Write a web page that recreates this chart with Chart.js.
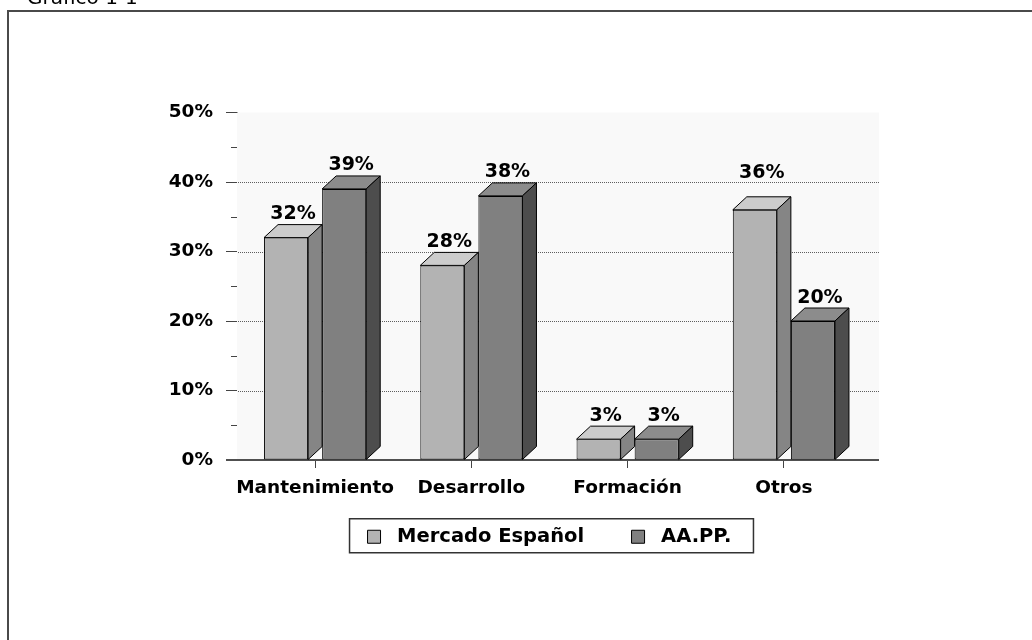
<!DOCTYPE html>
<html lang="es">
<head>
<meta charset="utf-8">
<title>Gráfico 1-1</title>
<script src="https://cdn.jsdelivr.net/npm/chart.js@4.4.1/dist/chart.umd.min.js"></script>
<style>
  html, body { margin: 0; padding: 0; background: #ffffff; overflow: hidden; }
  #page { position: relative; width: 1032px; height: 640px; overflow: hidden; }
  #frame {
    position: absolute; left: 7px; top: 10px; width: 1100px; height: 700px;
    border: 2px solid #4a4a4a; box-sizing: border-box;
  }
  #wrap { position: absolute; left: 0; top: 0; width: 1032px; height: 640px; }
</style>
</head>
<body>
<div id="page">
  <div id="frame"></div>
  <div id="wrap"><canvas id="chart"></canvas></div>
</div>
<script>
// Categories, series and axis ticks
const categories = ['Mantenimiento', 'Desarrollo', 'Formación', 'Otros'];
const mercadoEspanol = [32, 28, 3, 36];
const aapp = [39, 38, 3, 20];
const seriesNames = ['Mercado Español', 'AA.PP.'];
const yTicks = [0, 10, 20, 30, 40, 50];
const yMinorTicks = [5, 15, 25, 35, 45];
const figureTitle = 'Gráfico 1-1';

const FONT = 'DejaVu Sans';
Chart.defaults.font.family = FONT;
Chart.defaults.color = '#000';

// Shades of each series: front, top and side faces of the 3D columns
const shades = [
  { front: '#b3b3b3', top: '#cccccc', side: '#858585' },
  { front: '#808080', top: '#8c8c8c', side: '#4d4d4d' }
];
const DEPTH_X = 14, DEPTH_Y = 13, BACK_EXTRA = 17;
const NBSP = '\u00a0';

// Back wall, dotted grid, floor line and minor ticks
const wallPlugin = {
  id: 'wall',
  beforeDatasetsDraw(chart) {
    const { ctx, chartArea: a, scales: { y } } = chart;
    ctx.save();
    ctx.fillStyle = '#f9f9f9';
    ctx.fillRect(a.left, a.top, a.right - a.left + BACK_EXTRA, a.bottom - a.top);
    ctx.strokeStyle = '#5e5e5e';
    ctx.lineWidth = 1;
    ctx.setLineDash([1, 1]);
    yTicks.forEach(v => {
      if (v === yTicks[0] || v === yTicks[yTicks.length - 1]) return;
      const py = Math.round(y.getPixelForValue(v)) + 0.5;
      ctx.beginPath();
      ctx.moveTo(a.left + 1, py);
      ctx.lineTo(a.right + BACK_EXTRA, py);
      ctx.stroke();
    });
    ctx.setLineDash([]);
    ctx.strokeStyle = '#505050';
    ctx.lineWidth = 2;
    const py0 = y.getPixelForValue(0);
    ctx.beginPath();
    ctx.moveTo(a.left - 11, py0);
    ctx.lineTo(a.right + BACK_EXTRA, py0);
    ctx.stroke();
    ctx.lineWidth = 1;
    ctx.strokeStyle = '#444';
    yMinorTicks.forEach(v => {
      const py = Math.round(y.getPixelForValue(v)) + 0.5;
      ctx.beginPath();
      ctx.moveTo(a.left - 6, py);
      ctx.lineTo(a.left, py);
      ctx.stroke();
    });
    ctx.restore();
  }
};

// Top and side faces of each column, plus the value labels above them
const columnsPlugin = {
  id: 'columns3d',
  afterDatasetsDraw(chart) {
    const { ctx, scales: { y } } = chart;
    ctx.save();
    ctx.strokeStyle = '#000';
    ctx.lineWidth = 1;
    ctx.lineJoin = 'miter';
    chart.data.datasets.forEach((ds, di) => {
      const meta = chart.getDatasetMeta(di);
      meta.data.forEach(bar => {
        const { x, y: yt, base: yb, width } = bar.getProps(['x', 'y', 'base', 'width'], true);
        const xl = x - width / 2, xr = x + width / 2;
        ctx.fillStyle = shades[di].top;
        ctx.beginPath();
        ctx.moveTo(xl, yt);
        ctx.lineTo(xl + DEPTH_X, yt - DEPTH_Y);
        ctx.lineTo(xr + DEPTH_X, yt - DEPTH_Y);
        ctx.lineTo(xr, yt);
        ctx.closePath();
        ctx.fill();
        ctx.stroke();
        ctx.fillStyle = shades[di].side;
        ctx.beginPath();
        ctx.moveTo(xr, yt);
        ctx.lineTo(xr + DEPTH_X, yt - DEPTH_Y);
        ctx.lineTo(xr + DEPTH_X, yb - DEPTH_Y);
        ctx.lineTo(xr, yb);
        ctx.closePath();
        ctx.fill();
        ctx.stroke();
      });
    });
    // value labels, lifted clear of any gridline they would cross
    ctx.font = `bold 19px "${FONT}"`;
    ctx.fillStyle = '#000';
    ctx.textAlign = 'center';
    ctx.textBaseline = 'alphabetic';
    const capH = 14;
    chart.data.datasets.forEach((ds, di) => {
      const meta = chart.getDatasetMeta(di);
      meta.data.forEach((bar, i) => {
        const { x, y: yt } = bar.getProps(['x', 'y'], true);
        let baseLine = yt - DEPTH_Y - 5.5;
        yTicks.slice(1, -1).forEach(v => {
          const gy = y.getPixelForValue(v);
          if (gy > baseLine - capH - 1 && gy < baseLine + 1) baseLine = gy - 4;
        });
        ctx.fillText(ds.data[i] + '%', x + DEPTH_X / 2, baseLine);
      });
    });
    ctx.restore();
  },
  afterDraw(chart) {
    const { ctx } = chart;
    ctx.save();
    // frame round the legend
    const boxes = chart.legend && chart.legend.legendHitBoxes;
    if (boxes && boxes.length) {
      const first = boxes[0], last = boxes[boxes.length - 1];
      const cy = first.top + first.height / 2;
      const left = first.left - 18;
      const right = last.left + last.width + 22;
      ctx.strokeStyle = '#333';
      ctx.lineWidth = 1.5;
      ctx.strokeRect(left, cy - 18, right - left, 34);
    }
    // figure caption, mostly cut off by the top edge
    ctx.font = `20px "${FONT}"`;
    ctx.fillStyle = '#000';
    ctx.textAlign = 'left';
    ctx.textBaseline = 'alphabetic';
    ctx.fillText(figureTitle, 27, 4);
    ctx.restore();
  }
};

new Chart(document.getElementById('chart'), {
  type: 'bar',
  data: {
    labels: categories,
    datasets: [
      {
        label: seriesNames[0], data: mercadoEspanol,
        backgroundColor: shades[0].front, borderColor: '#000', borderWidth: 1, borderSkipped: false,
        categoryPercentage: 0.7436, barPercentage: 0.7586
      },
      {
        label: seriesNames[1], data: aapp,
        backgroundColor: shades[1].front, borderColor: '#000', borderWidth: 1, borderSkipped: false,
        categoryPercentage: 0.7436, barPercentage: 0.7586
      }
    ]
  },
  options: {
    responsive: true,
    maintainAspectRatio: false,
    animation: false,
    devicePixelRatio: 1,
    layout: { padding: { left: 0, right: 170, top: 112.5, bottom: 83.5 } },
    plugins: {
      tooltip: { enabled: false },
      legend: {
        position: 'bottom',
        fullSize: false,
        labels: {
          boxWidth: 13, boxHeight: 13, padding: 27,
          font: { family: FONT, size: 19.5, weight: 'bold' }, color: '#000',
          generateLabels(chart) {
            const items = Chart.defaults.plugins.legend.labels.generateLabels(chart);
            items.forEach((it, i) => {
              it.text = NBSP + it.text + (i < items.length - 1 ? NBSP.repeat(3) : '');
            });
            return items;
          }
        }
      }
    },
    scales: {
      x: {
        grid: { display: true, drawOnChartArea: false, drawTicks: true, tickLength: 8, offset: false, tickColor: '#444', tickWidth: 1 },
        border: { display: false },
        ticks: { font: { family: FONT, size: 18.5, weight: 'bold' }, color: '#000', padding: 9, maxRotation: 0, autoSkip: false },
        afterFit(scale) { scale.height = 40; }
      },
      y: {
        min: 0, max: 50,
        ticks: { stepSize: 10, callback: v => v + '%', font: { family: FONT, size: 18.5, weight: 'bold' }, color: '#000', padding: 13 },
        grid: { display: true, drawOnChartArea: false, drawTicks: true, tickLength: 11, tickColor: '#444', tickWidth: 1 },
        border: { display: true, color: '#555', width: 1 },
        afterFit(scale) { scale.width = 237; }
      }
    }
  },
  plugins: [wallPlugin, columnsPlugin]
});
</script>
</body>
</html>
